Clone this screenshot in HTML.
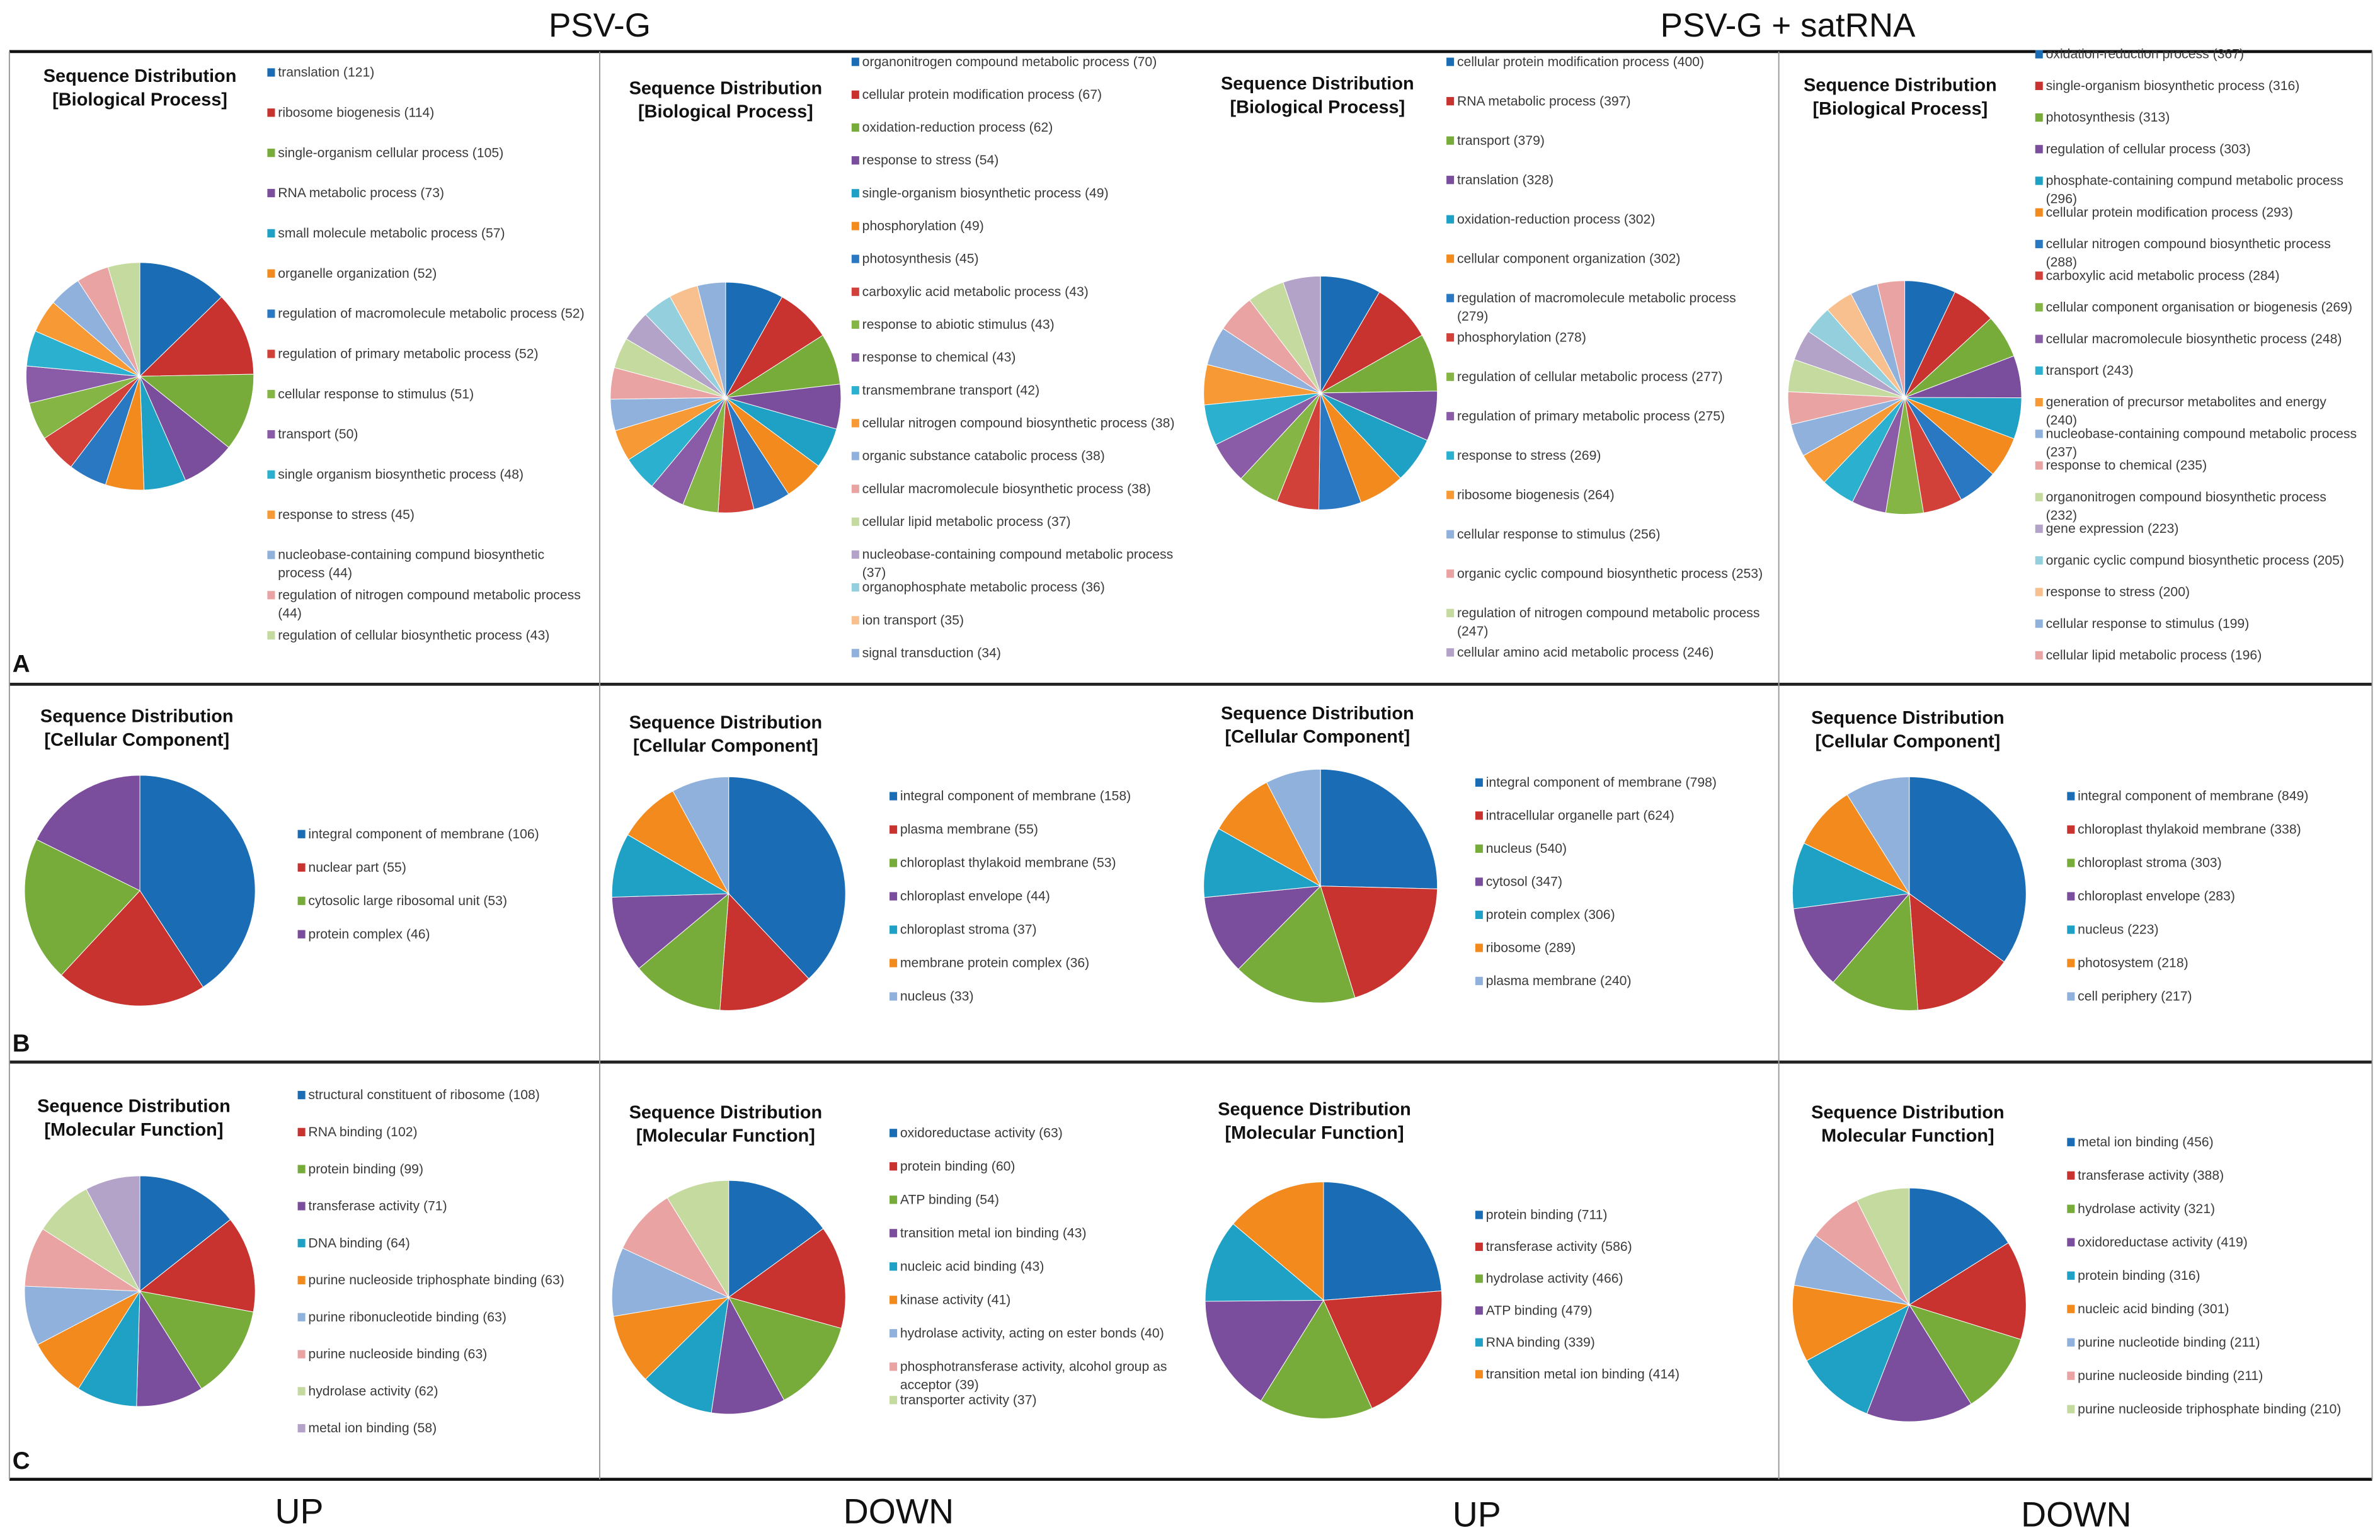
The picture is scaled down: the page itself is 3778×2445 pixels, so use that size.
<!DOCTYPE html>
<html><head><meta charset="utf-8">
<style>
html,body{margin:0;padding:0;background:#fff;}
svg{display:block;}
text{font-family:"Liberation Sans Narrow","Liberation Sans",sans-serif;}
</style></head>
<body>
<svg id="fig" width="3778" height="2445" viewBox="0 0 1568 1015" xmlns="http://www.w3.org/2000/svg">
<rect x="0" y="0" width="1568" height="1015" fill="#fff"/>
<text x="395" y="24" font-size="22" text-anchor="middle" fill="#111" style="font-family:'Liberation Sans',sans-serif">PSV-G</text>
<text x="1178" y="24" font-size="22" text-anchor="middle" fill="#111" style="font-family:'Liberation Sans',sans-serif">PSV-G + satRNA</text>
<g>
<line x1="6" y1="34" x2="1563" y2="34" stroke="#111" stroke-width="2"/>
<line x1="6" y1="451" x2="1563" y2="451" stroke="#222" stroke-width="2"/>
<line x1="6" y1="700" x2="1563" y2="700" stroke="#222" stroke-width="2"/>
<line x1="6" y1="975" x2="1563" y2="975" stroke="#111" stroke-width="2"/>
<line x1="6" y1="34" x2="6" y2="975" stroke="#999" stroke-width="0.8"/>
<line x1="1563" y1="34" x2="1563" y2="975" stroke="#999" stroke-width="0.8"/>
<line x1="395" y1="34" x2="395" y2="975" stroke="#999" stroke-width="0.8"/>
<line x1="1172" y1="34" x2="1172" y2="975" stroke="#999" stroke-width="0.8"/>
</g>
<text x="8" y="443" font-size="16" font-weight="bold" fill="#111" style="font-family:'Liberation Sans',sans-serif">A</text>
<text x="8" y="693" font-size="16" font-weight="bold" fill="#111" style="font-family:'Liberation Sans',sans-serif">B</text>
<text x="8" y="968" font-size="16" font-weight="bold" fill="#111" style="font-family:'Liberation Sans',sans-serif">C</text>
<text x="197" y="1004" font-size="23" text-anchor="middle" fill="#111" style="font-family:'Liberation Sans',sans-serif">UP</text>
<text x="592" y="1004" font-size="23" text-anchor="middle" fill="#111" style="font-family:'Liberation Sans',sans-serif">DOWN</text>
<text x="973" y="1006" font-size="23" text-anchor="middle" fill="#111" style="font-family:'Liberation Sans',sans-serif">UP</text>
<text x="1368" y="1006" font-size="23" text-anchor="middle" fill="#111" style="font-family:'Liberation Sans',sans-serif">DOWN</text>
<g id="charts"></g>
</svg>
<script>
var baseColors = ["#1a6db4","#c8322f","#77ab3a","#7a4e9c","#1ea1c4","#f28a1e"];
var darkColors = ["#2a78c2","#d2403a","#84b545","#8a5ca8","#2cb0cf","#f79a35"];
var lightColors = ["#8fb1dc","#e9a3a2","#c5da9e","#b4a3c9","#93cfdd","#f9c08f"];

var a1Labels = ["translation (121)","ribosome biogenesis (114)","single-organism cellular process (105)","RNA metabolic process (73)","small molecule metabolic process (57)","organelle organization (52)","regulation of macromolecule metabolic process (52)","regulation of primary metabolic process (52)","cellular response to stimulus (51)","transport (50)","single organism biosynthetic process (48)","response to stress (45)","nucleobase-containing compund biosynthetic\nprocess (44)","regulation of nitrogen compound metabolic process\n(44)","regulation of cellular biosynthetic process (43)"];
var a1Values = [121,114,105,73,57,52,52,52,51,50,48,45,44,44,43];

var a2Labels = ["organonitrogen compound metabolic process (70)","cellular protein modification process (67)","oxidation-reduction process (62)","response to stress (54)","single-organism biosynthetic process (49)","phosphorylation (49)","photosynthesis (45)","carboxylic acid metabolic process (43)","response to abiotic stimulus (43)","response to chemical (43)","transmembrane transport (42)","cellular nitrogen compound biosynthetic process (38)","organic substance catabolic process (38)","cellular macromolecule biosynthetic process (38)","cellular lipid metabolic process (37)","nucleobase-containing compound metabolic process\n(37)","organophosphate metabolic process (36)","ion transport (35)","signal transduction (34)"];
var a2Values = [70,67,62,54,49,49,45,43,43,43,42,38,38,38,37,37,36,35,34];

var a3Labels = ["cellular protein modification process (400)","RNA metabolic process (397)","transport (379)","translation (328)","oxidation-reduction process (302)","cellular component organization (302)","regulation of macromolecule metabolic process\n(279)","phosphorylation (278)","regulation of cellular metabolic process (277)","regulation of primary metabolic process (275)","response to stress (269)","ribosome biogenesis (264)","cellular response to stimulus (256)","organic cyclic compound biosynthetic process (253)","regulation of nitrogen compound metabolic process\n(247)","cellular amino acid metabolic process (246)"];
var a3Values = [400,397,379,328,302,302,279,278,277,275,269,264,256,253,247,246];

var a4Labels = ["oxidation-reduction process (367)","single-organism biosynthetic process (316)","photosynthesis (313)","regulation of cellular process (303)","phosphate-containing compund metabolic process\n(296)","cellular protein modification process (293)","cellular nitrogen compound biosynthetic process\n(288)","carboxylic acid metabolic process (284)","cellular component organisation or biogenesis (269)","cellular macromolecule biosynthetic process (248)","transport (243)","generation of precursor metabolites and energy\n(240)","nucleobase-containing compound metabolic process\n(237)","response to chemical (235)","organonitrogen compound biosynthetic process\n(232)","gene expression (223)","organic cyclic compund biosynthetic process (205)","response to stress (200)","cellular response to stimulus (199)","cellular lipid metabolic process (196)"];
var a4Values = [367,316,313,303,296,293,288,284,269,248,243,240,237,235,232,223,205,200,199,196];

var b1Labels = ["integral component of membrane (106)","nuclear part (55)","cytosolic large ribosomal unit (53)","protein complex (46)"];
var b1Values = [106,55,53,46];
var b2Labels = ["integral component of membrane (158)","plasma membrane (55)","chloroplast thylakoid membrane (53)","chloroplast envelope (44)","chloroplast stroma (37)","membrane protein complex (36)","nucleus (33)"];
var b2Values = [158,55,53,44,37,36,33];
var b3Labels = ["integral component of membrane (798)","intracellular organelle part (624)","nucleus (540)","cytosol (347)","protein complex (306)","ribosome (289)","plasma membrane (240)"];
var b3Values = [798,624,540,347,306,289,240];
var b4Labels = ["integral component of membrane (849)","chloroplast thylakoid membrane (338)","chloroplast stroma (303)","chloroplast envelope (283)","nucleus (223)","photosystem (218)","cell periphery (217)"];
var b4Values = [849,338,303,283,223,218,217];

var c1Labels = ["structural constituent of ribosome (108)","RNA binding (102)","protein binding (99)","transferase activity (71)","DNA binding (64)","purine nucleoside triphosphate binding (63)","purine ribonucleotide binding (63)","purine nucleoside binding (63)","hydrolase activity (62)","metal ion binding (58)"];
var c1Values = [108,102,99,71,64,63,63,63,62,58];
var c2Labels = ["oxidoreductase activity (63)","protein binding (60)","ATP binding (54)","transition metal ion binding (43)","nucleic acid binding (43)","kinase activity (41)","hydrolase activity, acting on ester bonds (40)","phosphotransferase activity, alcohol group as\nacceptor (39)","transporter activity (37)"];
var c2Values = [63,60,54,43,43,41,40,39,37];
var c3Labels = ["protein binding (711)","transferase activity (586)","hydrolase activity (466)","ATP binding (479)","RNA binding (339)","transition metal ion binding (414)"];
var c3Values = [711,586,466,479,339,414];
var c4Labels = ["metal ion binding (456)","transferase activity (388)","hydrolase activity (321)","oxidoreductase activity (419)","protein binding (316)","nucleic acid binding (301)","purine nucleotide binding (211)","purine nucleoside binding (211)","purine nucleoside triphosphate binding (210)"];
var c4Values = [456,388,321,419,316,301,211,211,210];

var layout = [
 {n:"a1",labels:a1Labels,values:a1Values,cx:92,cy:248,r:75,tx:92,ty:54,sub:"[Biological Process]",lx:176,ly:50,ld:26.5},
 {n:"a2",labels:a2Labels,values:a2Values,cx:478,cy:262,r:76,tx:478,ty:62,sub:"[Biological Process]",lx:561,ly:43,ld:21.65},
 {n:"a3",labels:a3Labels,values:a3Values,cx:870,cy:259,r:77,tx:868,ty:59,sub:"[Biological Process]",lx:953,ly:43,ld:25.95},
 {n:"a4",labels:a4Labels,values:a4Values,cx:1255,cy:262,r:77,tx:1252,ty:60,sub:"[Biological Process]",lx:1341,ly:38,ld:20.85},
 {n:"b1",labels:b1Labels,values:b1Values,cx:92,cy:587,r:76,tx:90,ty:476,sub:"[Cellular Component]",lx:196,ly:552,ld:22},
 {n:"b2",labels:b2Labels,values:b2Values,cx:480,cy:589,r:77,tx:478,ty:480,sub:"[Cellular Component]",lx:586,ly:527,ld:22},
 {n:"b3",labels:b3Labels,values:b3Values,cx:870,cy:584,r:77,tx:868,ty:474,sub:"[Cellular Component]",lx:972,ly:518,ld:21.8},
 {n:"b4",labels:b4Labels,values:b4Values,cx:1258,cy:589,r:77,tx:1257,ty:477,sub:"[Cellular Component]",lx:1362,ly:527,ld:22},
 {n:"c1",labels:c1Labels,values:c1Values,cx:92,cy:851,r:76,tx:88,ty:733,sub:"[Molecular Function]",lx:196,ly:724,ld:24.4},
 {n:"c2",labels:c2Labels,values:c2Values,cx:480,cy:855,r:77,tx:478,ty:737,sub:"[Molecular Function]",lx:586,ly:749,ld:22},
 {n:"c3",labels:c3Labels,values:c3Values,cx:872,cy:857,r:78,tx:866,ty:735,sub:"[Molecular Function]",lx:972,ly:803,ld:21},
 {n:"c4",labels:c4Labels,values:c4Values,cx:1258,cy:860,r:77,tx:1257,ty:737,sub:"Molecular Function]",lx:1362,ly:755,ld:22}
];

function colorFor(i, n){
  if (i < 6) return baseColors[i];
  if (n <= 12) return lightColors[(i-6) % 6];
  if (i < 12) return darkColors[i-6];
  return lightColors[(i-12) % 6];
}

var NS = "http://www.w3.org/2000/svg";
var root = document.getElementById("charts");
function mk(tag, attrs, parent){
  var e = document.createElementNS(NS, tag);
  for (var k in attrs) e.setAttribute(k, attrs[k]);
  parent.appendChild(e);
  return e;
}
function angleScale(v, total){ return v / total * Math.PI * 2; }
function polar(cx, cy, r, a){ return [cx + r*Math.sin(a), cy - r*Math.cos(a)]; }

layout.forEach(function(c){
  var g = mk("g", {}, root);
  
  
  var t = mk("text", {x:c.tx, y:c.ty, "font-size":12, "font-weight":"bold", "text-anchor":"middle", fill:"#111"}, g);
  
  
  var s1 = mk("tspan", {x:c.tx, dy:0}, t); s1.textContent = "Sequence Distribution";
  var s2 = mk("tspan", {x:c.tx, dy:15.5}, t); s2.textContent = c.sub;

  var n = c.values.length;
  var total = c.values.reduce(function(a,b){return a+b;},0);
  var acc = 0;
  c.values.forEach(function(v, i){
    var a0 = angleScale(acc, total), a1 = angleScale(acc+v, total);
    acc += v;
    var p0 = polar(c.cx,c.cy,c.r,a0), p1 = polar(c.cx,c.cy,c.r,a1);
    var large = (a1-a0) > Math.PI ? 1 : 0;
    var d = "M"+c.cx+","+c.cy+" L"+p0[0]+","+p0[1]+" A"+c.r+","+c.r+" 0 "+large+" 1 "+p1[0]+","+p1[1]+" Z";
    var sl = mk("path", {d:d, fill:colorFor(i, n), stroke:"#fff", "stroke-width":0.4}, g);
    
    
  });

  c.labels.forEach(function(lab, i){
    var y = c.ly + i*c.ld;
    var lg = mk("g", {}, g);
    
    
    mk("rect", {x:c.lx, y:y-5, width:5, height:5.5, fill:colorFor(i, n)}, lg);
    var lt = mk("text", {x:c.lx+7, y:y+0.5, "font-size":8.8, fill:"#3a3a3a"}, lg);
    lab.split("\n").forEach(function(line, j){
      var ts = mk("tspan", {x:c.lx+7, dy:(j===0?0:12)}, lt);
      ts.textContent = line;
    });
  });
});
</script>
</body></html>
